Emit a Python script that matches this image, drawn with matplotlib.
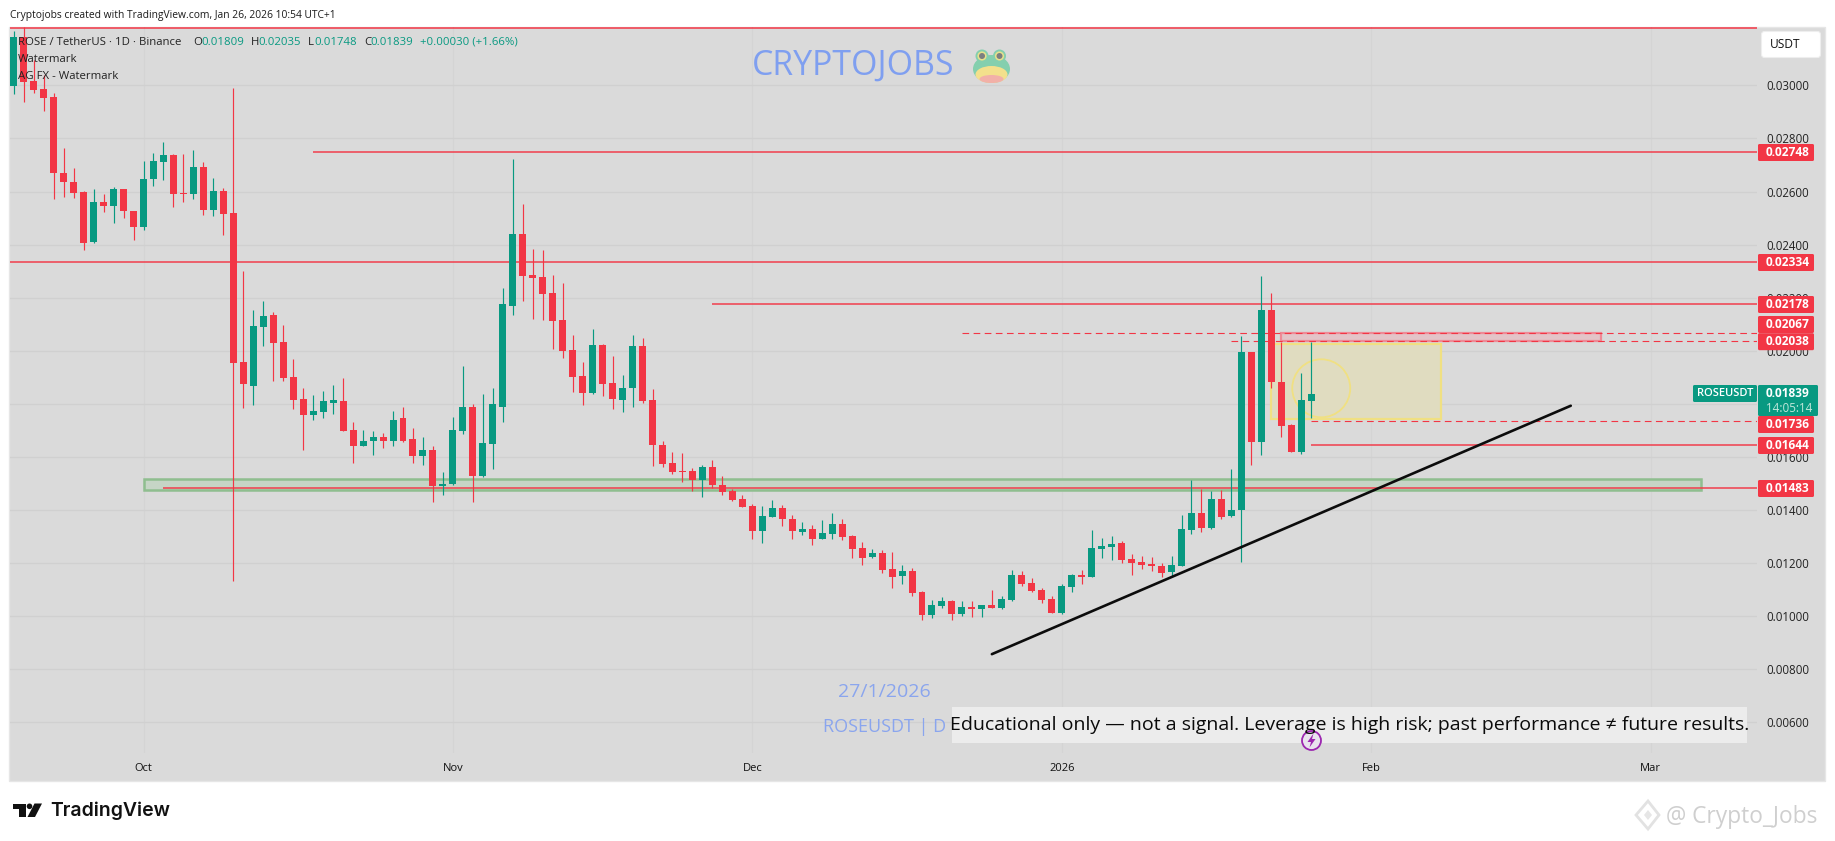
import matplotlib
matplotlib.use('Agg')
import matplotlib.pyplot as plt
from matplotlib.patches import Rectangle, Ellipse, FancyBboxPatch, Circle, Polygon
import numpy as np

W, H = 1835, 841
plt.rcParams['font.family'] = ['Open Sans', 'DejaVu Sans']

# Daily candles, first one is 18 Sep 2025
opens = [.02998,.03183,.03017,.02987,.02957,.02670,.02636,.02599,.02411,.02561,
         .02547,.02610,.02527,.02468,.02649,.02713,.02738,.02595,.02589,.02693,
         .02532,.02602,.02519,.01956,.01867,.02089,.02133,.02032,.01900,.01817,
         .01757,.01769,.01802,.01809,.01700,.01641,.01659,.01674,.01660,.01745,
         .01666,.01603,.01625,.01489,.01497,.01696,.01787,.01530,.01647,.01790,
         .02168,.02439,.02285,.02277,.02217,.02115,.02002,.01904,.01840,.02021,
         .01878,.01814,.01859,.02017,.01814,.01646,.01579,.01548,.01548,.01515,
         .01564,.01496,.01473,.01443,.01417,.01322,.01375,.01409,.01368,.01319,
         .01330,.01292,.01311,.01349,.01304,.01258,.01224,.01240,.01179,.01153,
         .01172,.01093,.01006,.01040,.01059,.01010,.01036,.01028,.01044,.01032,
         .01062,.01157,.01126,.01100,.01066,.01013,.01111,.01157,.01149,.01255,
         .01262,.01277,.01217,.01206,.01198,.01190,.01168,.01191,.01323,.01387,
         .01334,.01440,.01376,.01399,.01994,.01655,.02152,.01881,.01719,.01617,
         .01809]
closes = [.03183,.03014,.02983,.02954,.02671,.02637,.02596,.02408,.02561,.02546,
          .02610,.02528,.02468,.02648,.02714,.02738,.02592,.02589,.02693,.02532,
          .02602,.02517,.01954,.01875,.02092,.02130,.02029,.01896,.01814,.01758,
          .01772,.01809,.01813,.01698,.01641,.01662,.01674,.01659,.01741,.01662,
          .01603,.01625,.01489,.01500,.01700,.01787,.01530,.01651,.01798,.02175,
          .02439,.02282,.02274,.02213,.02112,.01999,.01901,.01840,.02021,.01874,
          .01818,.01859,.02017,.01810,.01644,.01575,.01545,.01545,.01515,.01564,
          .01496,.01469,.01439,.01413,.01322,.01379,.01409,.01368,.01322,.01330,
          .01292,.01315,.01349,.01300,.01255,.01221,.01240,.01175,.01149,.01172,
          .01089,.01006,.01044,.01059,.01010,.01036,.01028,.01044,.01032,.01066,
          .01157,.01123,.01096,.01062,.01013,.01115,.01157,.01149,.01258,.01266,
          .01273,.01213,.01202,.01194,.01190,.01164,.01194,.01327,.01387,.01334,
          .01440,.01372,.01402,.01994,.01655,.02152,.01881,.01715,.01617,.01813,
          .01839]
highs = [.03205,.03219,.03096,.03039,.02970,.02764,.02689,.02601,.02610,.02590,
         .02617,.02610,.02527,.02714,.02744,.02786,.02742,.02742,.02757,.02710,
         .02651,.02614,.02989,.02301,.02152,.02186,.02145,.02099,.01968,.01858,
         .01832,.01847,.01873,.01896,.01730,.01700,.01696,.01689,.01772,.01787,
         .01711,.01674,.01640,.01542,.01749,.01941,.01798,.01839,.01858,.02235,
         .02722,.02552,.02383,.02379,.02285,.02255,.02059,.01957,.02081,.02025,
         .01980,.01908,.02059,.02047,.01855,.01662,.01620,.01616,.01560,.01571,
         .01590,.01530,.01481,.01458,.01424,.01417,.01439,.01420,.01383,.01356,
         .01345,.01364,.01390,.01368,.01307,.01281,.01255,.01251,.01243,.01194,
         .01183,.01096,.01062,.01074,.01062,.01059,.01059,.01044,.01100,.01077,
         .01175,.01172,.01145,.01108,.01077,.01123,.01160,.01175,.01326,.01296,
         .01304,.01285,.01236,.01228,.01224,.01202,.01228,.01380,.01515,.01481,
         .01470,.01474,.01553,.02054,.01994,.02280,.02216,.02032,.01723,.01915,
         .02035]
lows = [.02968,.02939,.02973,.02905,.02573,.02581,.02577,.02381,.02406,.02523,
        .02483,.02502,.02419,.02457,.02622,.02645,.02543,.02562,.02573,.02513,
        .02509,.02438,.01134,.01783,.01794,.02017,.01885,.01885,.01779,.01625,
        .01738,.01745,.01760,.01696,.01576,.01641,.01606,.01632,.01640,.01655,
        .01576,.01568,.01429,.01455,.01493,.01685,.01429,.01523,.01553,.01730,
        .02134,.02187,.02119,.02115,.02006,.01972,.01844,.01795,.01836,.01829,
        .01780,.01769,.01788,.01803,.01565,.01564,.01537,.01507,.01473,.01450,
        .01484,.01458,.01435,.01413,.01292,.01277,.01375,.01341,.01292,.01307,
        .01270,.01292,.01292,.01288,.01221,.01194,.01221,.01164,.01108,.01123,
        .01077,.00987,.00995,.01032,.00987,.01002,.00998,.00998,.01032,.01028,
        .01059,.01115,.01093,.01051,.01013,.01010,.01093,.01123,.01149,.01221,
        .01213,.01202,.01157,.01179,.01172,.01149,.01149,.01191,.01308,.01319,
        .01327,.01368,.01372,.01203,.01568,.01606,.01858,.01677,.01617,.01610,
        .01748]

price_ticks = [.006, .008, .010, .012, .014, .016, .018, .020, .022, .024, .026, .028, .030]
month_ticks = [13, 44, 74, 105, 136, 164]
month_labels = ['Oct', 'Nov', 'Dec', '2026', 'Feb', 'Mar']

# horizontal levels: price, first bar, dashed
top_line = .03215
solid_levels = [.02748, .02334, .02178, .01644, .01483]
solid_starts = [30, -1, 70, 130, 15]
dashed_levels = [.02067, .02038, .01736]
dashed_starts = [95, 122, 130]

trend_x = [98, 156]
trend_y = [.00857, .01793]

RED = '#f23645'
GREEN = '#089981'
GRID = '#d0d0d0'
BG = '#dadada'
BLUE = '#8aa5ee'

fig = plt.figure(figsize=(W / 100, H / 100), dpi=100, facecolor='white')


def pixel_axes(z):
    a = fig.add_axes([0, 0, 1, 1], zorder=z)
    a.set_xlim(0, W)
    a.set_ylim(H, 0)
    a.axis('off')
    return a


back = pixel_axes(0)
over = pixel_axes(2)
back.add_patch(Rectangle((9, 27), 1816, 754, fc=BG, ec='#e6e6e6', lw=1))

ax = fig.add_axes([10 / W, 1 - 753 / H, 1747 / W, 726 / H], zorder=1)
ax.patch.set_alpha(0)
for s in ax.spines.values():
    s.set_visible(False)
ax.set_xlim(-0.376, 174.66)
ax.set_ylim(0.004846, 0.0322)

ax.set_yticks(price_ticks)
ax.set_yticklabels(['%.5f' % p for p in price_ticks], fontsize=8.3, color='#222222')
ax.yaxis.tick_right()
ax.set_xticks(month_ticks)
ax.set_xticklabels(month_labels, fontsize=8, color='#111111')
ax.tick_params(axis='both', length=0)
ax.tick_params(axis='y', pad=6.5)
ax.tick_params(axis='x', pad=7.5)
ax.grid(True, axis='y', color=GRID, lw=1)
ax.grid(True, axis='x', color='#d4d4d4', lw=0.8)
ax.set_axisbelow(True)

# zones sit behind the candles
ax.add_patch(Rectangle((13, .014743), 156, .00043, fc='#c6d5c6', ec='#8fbe8f', lw=1.8, zorder=1.5))
ax.add_patch(Rectangle((127, .02038), 32, .00029, fc='#e3c4c8', ec='#ee8a96', lw=1.6, zorder=1.5))
ax.add_patch(Rectangle((126, .01743), 17, .00283, fc='#e0dcc0', ec='#f0e082', lw=1.6, zorder=1.5))
ax.add_patch(Ellipse((131, .018587), 5.81, .002186, fc='none', ec='#f0e082', lw=1.3, zorder=1.6))

for p, s in zip(solid_levels, solid_starts):
    ax.plot([s, 175], [p, p], color=RED, lw=1.1, alpha=0.95, zorder=1.8, solid_capstyle='butt')
ax.plot([-1, 175], [top_line, top_line], color=RED, lw=1.1, zorder=1.8)
for p, s in zip(dashed_levels, dashed_starts):
    ax.plot([s, 175], [p, p], color=RED, lw=0.8, ls=(0, (6, 4)), zorder=1.8)

x = np.arange(len(opens))
o = np.array(opens)
c = np.array(closes)
colors = [GREEN if cl >= op else RED for op, cl in zip(opens, closes)]
ax.vlines(x, lows, highs, colors=colors, lw=0.85, zorder=2)
ax.bar(x, np.abs(c - o), bottom=np.minimum(o, c), width=0.7, color=colors, zorder=2.1)

ax.plot(trend_x, trend_y, color='#0c0c0c', lw=1.9, zorder=3, solid_capstyle='round')

# header and legend text
over.text(10, 15, 'Cryptojobs created with TradingView.com, Jan 26, 2026 10:54 UTC+1',
          fontsize=7.35, color='#1a1a1a', va='center')
over.text(18, 42, 'ROSE / TetherUS · 1D · Binance', fontsize=8.2, color='#222222', va='center')
ohlc_labels = ['O', 'H', 'L', 'C']
ohlc_values = ['0.01809', '0.02035', '0.01748', '0.01839']
for lab, val, lx, vx in zip(ohlc_labels, ohlc_values, [193, 251, 308, 364], [201.5, 258.5, 314, 370]):
    over.text(lx, 42, lab, fontsize=8.2, color='#222222', va='center')
    over.text(vx, 42, val, fontsize=8.2, color=GREEN, va='center')
over.text(420, 42, '+0.00030 (+1.66%)', fontsize=8.2, color=GREEN, va='center')
over.text(18, 59, 'Watermark', fontsize=8.2, color='#222222', va='center')
over.text(18, 76, 'AG FX - Watermark', fontsize=8.2, color='#222222', va='center')

# USDT button
over.add_patch(FancyBboxPatch((1763, 33), 56, 23, boxstyle='round,pad=1.5,rounding_size=3',
                              fc='white', ec='#eeeeee', lw=0.8))
over.text(1770, 44.5, 'USDT', fontsize=8.6, color='#111111', va='center')


def tag(x0, x1, y0, y1, color):
    over.add_patch(FancyBboxPatch((x0 + 1, y0 + 1), x1 - x0 - 2, y1 - y0 - 2,
                                  boxstyle='round,pad=1,rounding_size=1.5', fc=color, ec='none'))


# price tags on the axis, nudged where they collide
tag_prices = ['0.02748', '0.02334', '0.02178', '0.02067', '0.02038', '0.01736', '0.01644', '0.01483']
tag_centres = [152.5, 262.5, 304.5, 324.5, 341.7, 424.5, 445.5, 488.5]
for t, yc in zip(tag_prices, tag_centres):
    tag(1758, 1814, yc - 8.5, yc + 8.5, RED)
    over.text(1766, yc, t, fontsize=8.6, color='white', fontweight='bold', va='center')

tag(1758, 1818, 385, 416, GREEN)
over.text(1766, 393.5, '0.01839', fontsize=8.6, color='white', fontweight='bold', va='center')
over.text(1766, 408, '14:05:14', fontsize=8.4, color='#bfe6d9', va='center')
tag(1693, 1757, 385, 402, GREEN)
over.text(1697, 393.5, 'ROSEUSDT', fontsize=8, color='white', fontweight='semibold', va='center')

# watermark
over.text(853.5, 66, 'CRYPTOJOBS', fontsize=24.4, color='#7f9ff0', ha='center', va='center')
over.add_patch(Ellipse((991.5, 69), 37, 28, fc='#84cfae', ec='none'))
over.add_patch(Ellipse((991.5, 74.5), 32, 17, fc='#f3e08c', ec='none'))
over.add_patch(Ellipse((991.5, 79), 24, 8, fc='#f2b0a8', ec='none'))
for ex in [982, 999.5]:
    over.add_patch(Circle((ex, 56), 6.5, fc='#84cfae', ec='none'))
    over.add_patch(Circle((ex, 56), 4.6, fc='#e8e08c', ec='none'))
    over.add_patch(Circle((ex, 56), 3, fc='#7d7f80', ec='none'))

over.text(884, 692, '27/1/2026', fontsize=14, color=BLUE, ha='center', va='center')
over.text(946, 726.5, 'ROSEUSDT | D', fontsize=13, color=BLUE, ha='right', va='center')
over.add_patch(Rectangle((952, 707), 795, 35.5, fc='#ececec', ec='none'))
over.text(1349.5, 725, 'Educational only — not a signal. Leverage is high risk; past performance ≠ future results.',
          fontsize=14.0, color='#0a0a0a', ha='center', va='center')

# lightning marker
over.add_patch(Circle((1311.5, 740.5), 9.5, fc='#e9e3ee', ec='#9c27b0', lw=1.3))
over.add_patch(Polygon([(1313.5, 733.5), (1307.5, 742), (1311, 742), (1309.5, 747.5), (1315.5, 739), (1312, 739)],
                       fc='#9c27b0', ec='none'))

# TradingView logo
over.add_patch(Polygon([(12.5, 803.5), (26, 803.5), (26, 817), (19, 817), (19, 809), (12.5, 809)], fc='#111111', ec='none'))
over.add_patch(Circle((29.5, 806.3), 2.8, fc='#111111', ec='none'))
over.add_patch(Polygon([(34.5, 803.5), (42, 803.5), (35, 817), (27.5, 817)], fc='#111111', ec='none'))
over.text(50, 811, 'TradingView', fontsize=14, color='#111111', fontweight='semibold', family='Inter', va='center')

# bottom right watermark
over.add_patch(Polygon([(1648, 801), (1659, 815), (1648, 829), (1636, 815)], fc='none', ec='#e2e2e2', lw=2))
over.add_patch(Polygon([(1648, 810), (1652, 815), (1648, 820), (1644, 815)], fc='#e6e6e6', ec='none'))
over.text(1666, 817, '@ Crypto_Jobs', fontsize=16.4, color='#cfcfcf', va='center')

fig.savefig('out.png', dpi=100, facecolor='white')
